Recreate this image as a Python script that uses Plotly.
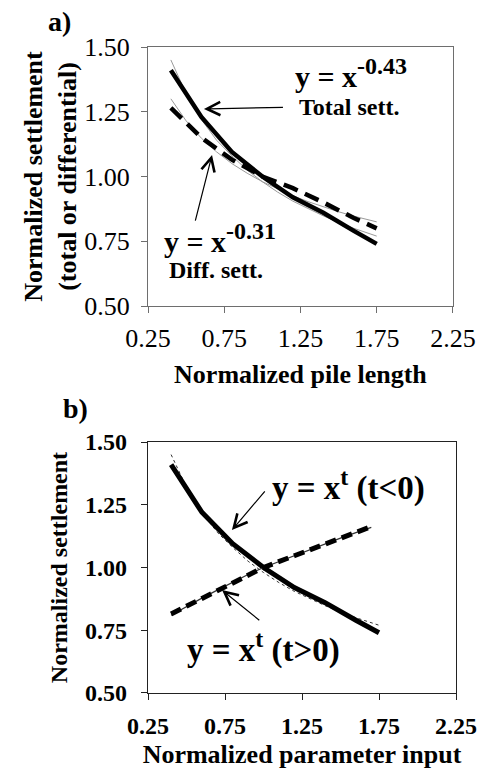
import plotly.graph_objects as go

# ---------------- data ----------------
# panel a: normalized pile length
pile_length = [0.4, 0.6, 0.8, 1.0, 1.2, 1.4, 1.6, 1.75]
total_sett = [1.41, 1.23, 1.095, 1.00, 0.92, 0.86, 0.79, 0.74]
diff_sett = [1.265, 1.15, 1.065, 1.00, 0.955, 0.90, 0.84, 0.80]

fit_x = [0.4, 0.5, 0.6, 0.7, 0.8, 0.9, 1.0, 1.1, 1.2, 1.3, 1.4, 1.5, 1.6, 1.75]
total_fit = [1.45, 1.32, 1.22, 1.14, 1.08, 1.025, 0.98, 0.94, 0.905, 0.875, 0.848, 0.823, 0.80, 0.77]
diff_fit = [1.30, 1.215, 1.148, 1.095, 1.05, 1.013, 0.98, 0.952, 0.926, 0.903, 0.883, 0.864, 0.847, 0.825]

# panel b: normalized parameter input
param_input = [0.4, 0.6, 0.8, 1.0, 1.2, 1.4, 1.6, 1.75]
neg_t = [1.41, 1.22, 1.095, 1.00, 0.92, 0.86, 0.79, 0.74]
pos_x = [0.4, 0.6, 0.8, 1.0, 1.2, 1.4, 1.6, 1.7]
pos_t = [0.815, 0.878, 0.942, 1.00, 1.047, 1.094, 1.139, 1.163]
pos_fit_x = [0.4, 0.5, 0.6, 0.7, 0.8, 0.9, 1.0, 1.1, 1.2, 1.3, 1.4, 1.5, 1.6, 1.7]
pos_fit = [0.81, 0.845, 0.878, 0.91, 0.942, 0.972, 1.00, 1.024, 1.047, 1.07, 1.094, 1.117, 1.139, 1.16]

x_ticks = [0.25, 0.75, 1.25, 1.75, 2.25]
x_ticktext = ["0.25", "0.75", "1.25", "1.75", "2.25"]
y_ticks = [0.50, 0.75, 1.00, 1.25, 1.50]
y_ticktext = ["0.50", "0.75", "1.00", "1.25", "1.50"]

SERIF = "Liberation Serif"

fig = go.Figure()

# ---- panel a ----
fig.add_trace(go.Scatter(x=fit_x, y=total_fit, mode="lines",
                         line=dict(color="#9a9a9a", width=1), xaxis="x", yaxis="y",
                         showlegend=False, name="Total fit"))
fig.add_trace(go.Scatter(x=fit_x, y=diff_fit, mode="lines",
                         line=dict(color="#9a9a9a", width=1), xaxis="x", yaxis="y",
                         showlegend=False, name="Diff fit"))
fig.add_trace(go.Scatter(x=pile_length, y=total_sett, mode="lines",
                         line=dict(color="black", width=4.5), xaxis="x", yaxis="y",
                         showlegend=False, name="Total sett."))
fig.add_trace(go.Scatter(x=pile_length, y=diff_sett, mode="lines",
                         line=dict(color="black", width=4.5, dash="15px,8px"), xaxis="x", yaxis="y",
                         showlegend=False, name="Diff. sett."))

# ---- panel b ----
fig.add_trace(go.Scatter(x=fit_x, y=total_fit, mode="lines",
                         line=dict(color="#333333", width=1, dash="dot"), xaxis="x2", yaxis="y2",
                         showlegend=False, name="t<0 fit"))
fig.add_trace(go.Scatter(x=param_input, y=neg_t, mode="lines",
                         line=dict(color="black", width=5), xaxis="x2", yaxis="y2",
                         showlegend=False, name="t<0"))
fig.add_trace(go.Scatter(x=pos_fit_x, y=pos_fit, mode="lines",
                         line=dict(color="#333333", width=1.2), xaxis="x2", yaxis="y2",
                         showlegend=False, name="t>0 fit"))
fig.add_trace(go.Scatter(x=pos_x, y=pos_t, mode="lines",
                         line=dict(color="black", width=5, dash="11px,6px"), xaxis="x2", yaxis="y2",
                         showlegend=False, name="t>0"))

axis_a = dict(showline=True, mirror=True, linecolor="#6e6e6e", linewidth=1.2, automargin=False,
              ticks="outside", ticklen=6, tickcolor="#6e6e6e", showgrid=False, zeroline=False)
axis_b = dict(showline=True, mirror=True, linecolor="#222222", linewidth=1.2, automargin=False,
              ticks="outside", ticklen=6, tickcolor="#222222", showgrid=False, zeroline=False)

tick_a = dict(family=SERIF, size=26, color="black")
tick_b = dict(family=SERIF, size=24, color="black", weight="bold")
title_font = dict(family=SERIF, size=26, color="black", weight="bold")

fig.update_layout(
    width=485, height=769,
    margin=dict(l=148, r=29, t=47, b=76, autoexpand=False),
    paper_bgcolor="white", plot_bgcolor="white",
    xaxis=dict(domain=[0, 0.990], range=[0.25, 2.25], tickvals=x_ticks, ticktext=x_ticktext,
               tickfont=tick_a, anchor="y", ticklabelstandoff=3,
               title=dict(text="Normalized pile length", font=title_font, standoff=12), **axis_a),
    yaxis=dict(domain=[0.599, 1.0], range=[0.5, 1.5], tickvals=y_ticks, ticktext=y_ticktext,
               tickfont=tick_a, anchor="x", ticklabelstandoff=6,
               title=dict(text="Normalized settlement<br>(total or differential)", font=title_font,
                          standoff=0), **axis_a),
    xaxis2=dict(domain=[0, 1.0], range=[0.25, 2.25], tickvals=x_ticks, ticktext=x_ticktext,
                tickfont=tick_b, anchor="y2", ticklabelstandoff=5,
                title=dict(text="Normalized parameter input", font=title_font, standoff=16), **axis_b),
    yaxis2=dict(domain=[0.0, 0.3885], range=[0.5, 1.5], tickvals=y_ticks, ticktext=y_ticktext,
                tickfont=tick_b, anchor="x2", ticklabelstandoff=9,
                title=dict(text="Normalized settlement",
                           font=dict(family=SERIF, size=24, color="black", weight="bold"),
                           standoff=10), **axis_b),
)

eq_a_font = dict(family=SERIF, size=30, color="black", weight="bold")
eq_b_font = dict(family=SERIF, size=33, color="black", weight="bold")
lbl_font = dict(family=SERIF, size=24, color="black", weight="bold")
arrow_style = dict(showarrow=True, arrowhead=5, arrowsize=2.2, arrowwidth=1.2,
                   arrowcolor="black", standoff=0)

annotations = [
    # panel labels
    dict(text="a)", xref="paper", yref="paper", x=-0.286, y=1.0387, showarrow=False,
         font=dict(family=SERIF, size=28, color="black", weight="bold"), xanchor="center", yanchor="middle"),
    dict(text="b)", xref="paper", yref="paper", x=-0.234, y=0.441, showarrow=False,
         font=dict(family=SERIF, size=28, color="black", weight="bold"), xanchor="center", yanchor="middle"),
    # panel a texts
    dict(text='y = x<sup><span style="font-size:24px">-0.43</span></sup>', xref="x", yref="y",
         x=1.201, y=1.40, showarrow=False, font=eq_a_font, xanchor="left", yanchor="middle"),
    dict(text="Total sett.", xref="x", yref="y", axref="x", ayref="y",
         x=0.617, y=1.261, ax=1.227, ay=1.268, startstandoff=14,
         font=lbl_font, xanchor="left", yanchor="middle", **arrow_style),
    dict(text='y = x<sup><span style="font-size:24px">-0.31</span></sup>', xref="x", yref="y",
         x=0.342, y=0.764, showarrow=False, font=eq_a_font, xanchor="left", yanchor="middle"),
    dict(text="Diff. sett.", xref="x", yref="y", x=0.375, y=0.640, showarrow=False,
         font=lbl_font, xanchor="left", yanchor="middle"),
    dict(text="", xref="x", yref="y", axref="x", ayref="y",
         x=0.670, y=1.083, ax=0.558, ay=0.824, **arrow_style),
    # panel b texts
    dict(text='y = x<sup><span style="font-size:24px">t</span></sup> (t&lt;0)', xref="x2", yref="y2",
         axref="x2", ayref="y2", x=0.795, y=1.149, ax=1.042, ay=1.328, startstandoff=8,
         font=eq_b_font, xanchor="left", yanchor="middle", **arrow_style),
    dict(text='y = x<sup><span style="font-size:24px">t</span></sup> (t&gt;0)', xref="x2", yref="y2",
         axref="x2", ayref="y2", x=0.731, y=0.910, ax=1.003, ay=0.775, startstandoff=6,
         font=eq_b_font, xanchor="center", yanchor="top", **arrow_style),
]
fig.update_layout(annotations=annotations)

fig.write_html("out.html", config={"displayModeBar": False},
               post_script="document.body.style.margin='0px';")
